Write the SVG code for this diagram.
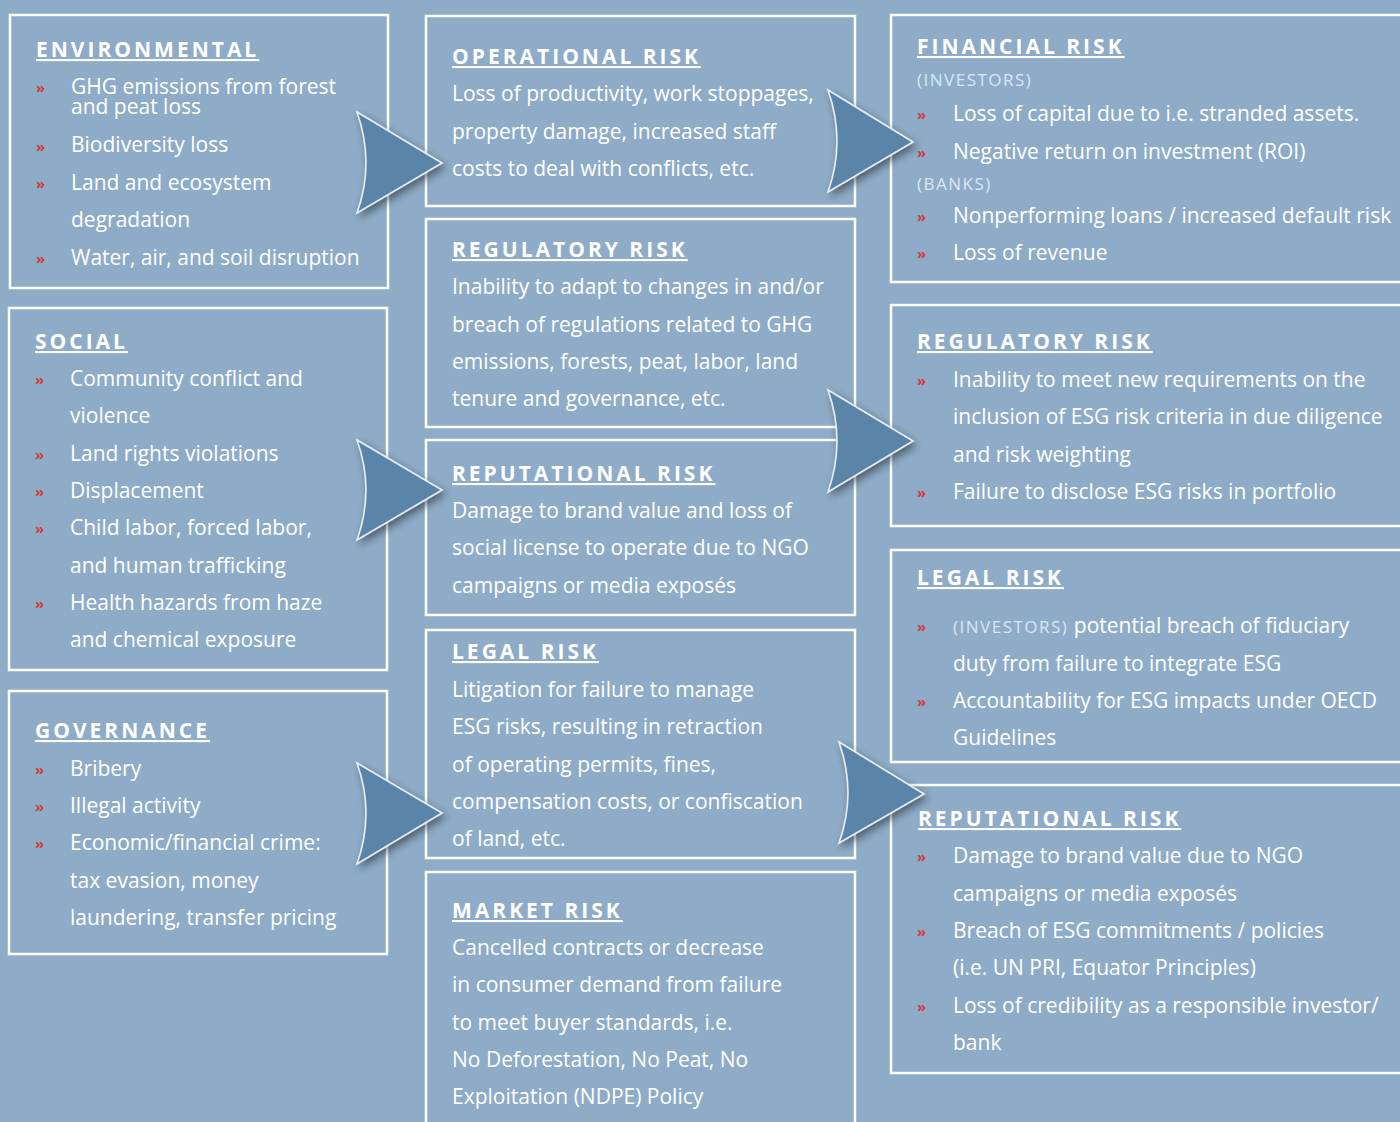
<svg xmlns="http://www.w3.org/2000/svg" width="1400" height="1122" viewBox="0 0 1400 1122">
<defs>
<style>
.box{fill:none;stroke:#ffffff;stroke-width:2.5}
.h{font-family:"Open Sans","Liberation Sans",sans-serif;font-weight:700;font-size:21px;letter-spacing:3px;fill:#ffffff;text-decoration:underline}
.t{font-family:"Open Sans","Liberation Sans",sans-serif;font-size:21px;fill:#ffffff}
.b{font-family:"Open Sans","Liberation Sans",sans-serif;font-size:15px;fill:#d6393f;font-weight:700}
.s{font-family:"Open Sans","Liberation Sans",sans-serif;font-size:17px;letter-spacing:1.5px;fill:#dce6ef}
.arr{fill:#5a85a9;stroke:#e8eef4;stroke-width:1.6;filter:url(#sh)}
</style>
<filter id="sh" x="-30%" y="-30%" width="170%" height="170%">
<feGaussianBlur in="SourceAlpha" stdDeviation="4"/>
<feOffset dx="3" dy="4" result="o"/>
<feComponentTransfer><feFuncA type="linear" slope="0.45"/></feComponentTransfer>
<feMerge><feMergeNode/><feMergeNode in="SourceGraphic"/></feMerge>
</filter>
</defs>
<rect x="0" y="0" width="1400" height="1122" fill="#8eacc7"/>

<g id="environmental">
<rect class="box" x="10" y="15" width="378" height="273"/>
<text class="h" x="36" y="57">ENVIRONMENTAL</text>
<text class="b" x="36" y="93">»</text><text class="t" x="71" y="94">GHG emissions from forest<tspan x="71" dy="20">and peat loss</tspan></text>
<text class="b" x="36" y="152">»</text><text class="t" x="71" y="152">Biodiversity loss</text>
<text class="b" x="36" y="189">»</text><text class="t" x="71" y="190">Land and ecosystem</text>
<text class="t" x="71" y="227">degradation</text>
<text class="b" x="36" y="264">»</text><text class="t" x="71" y="265">Water, air, and soil disruption</text>
</g>

<g id="social">
<rect class="box" x="9" y="308" width="378" height="362"/>
<text class="h" x="35" y="349">SOCIAL</text>
<text class="b" x="35" y="385">»</text><text class="t" x="70" y="386">Community conflict and</text>
<text class="t" x="70" y="423">violence</text>
<text class="b" x="35" y="460">»</text><text class="t" x="70" y="461">Land rights violations</text>
<text class="b" x="35" y="497">»</text><text class="t" x="70" y="498">Displacement</text>
<text class="b" x="35" y="534">»</text><text class="t" x="70" y="535">Child labor, forced labor,</text>
<text class="t" x="70" y="573">and human trafficking</text>
<text class="b" x="35" y="609">»</text><text class="t" x="70" y="610">Health hazards from haze</text>
<text class="t" x="70" y="647">and chemical exposure</text>
</g>

<g id="governance">
<rect class="box" x="9" y="691" width="378" height="263"/>
<text class="h" x="35" y="738">GOVERNANCE</text>
<text class="b" x="35" y="775">»</text><text class="t" x="70" y="776">Bribery</text>
<text class="b" x="35" y="812">»</text><text class="t" x="70" y="813">Illegal activity</text>
<text class="b" x="35" y="849">»</text><text class="t" x="70" y="850">Economic/financial crime:</text>
<text class="t" x="70" y="888">tax evasion, money</text>
<text class="t" x="70" y="925">laundering, transfer pricing</text>
</g>

<g id="operational-risk">
<rect class="box" x="426" y="16" width="429" height="190"/>
<text class="h" x="452" y="64">OPERATIONAL RISK</text>
<text class="t" x="452" y="101">Loss of productivity, work stoppages,</text>
<text class="t" x="452" y="139">property damage, increased staff</text>
<text class="t" x="452" y="176">costs to deal with conflicts, etc.</text>
</g>

<g id="regulatory-risk-company">
<rect class="box" x="426" y="219" width="429" height="208"/>
<text class="h" x="452" y="257">REGULATORY RISK</text>
<text class="t" x="452" y="294">Inability to adapt to changes in and/or</text>
<text class="t" x="452" y="332">breach of regulations related to GHG</text>
<text class="t" x="452" y="369">emissions, forests, peat, labor, land</text>
<text class="t" x="452" y="406">tenure and governance, etc.</text>
</g>

<g id="reputational-risk-company">
<rect class="box" x="426" y="440" width="429" height="175"/>
<text class="h" x="452" y="481">REPUTATIONAL RISK</text>
<text class="t" x="452" y="518">Damage to brand value and loss of</text>
<text class="t" x="452" y="555">social license to operate due to NGO</text>
<text class="t" x="452" y="593">campaigns or media exposés</text>
</g>

<g id="legal-risk-company">
<rect class="box" x="426" y="630" width="429" height="228"/>
<text class="h" x="452" y="659">LEGAL RISK</text>
<text class="t" x="452" y="697">Litigation for failure to manage</text>
<text class="t" x="452" y="734">ESG risks, resulting in retraction</text>
<text class="t" x="452" y="772">of operating permits, fines,</text>
<text class="t" x="452" y="809">compensation costs, or confiscation</text>
<text class="t" x="452" y="846">of land, etc.</text>
</g>

<g id="market-risk">
<rect class="box" x="426" y="872" width="429" height="260"/>
<text class="h" x="452" y="918">MARKET RISK</text>
<text class="t" x="452" y="955">Cancelled contracts or decrease</text>
<text class="t" x="452" y="992">in consumer demand from failure</text>
<text class="t" x="452" y="1030">to meet buyer standards, i.e.</text>
<text class="t" x="452" y="1067">No Deforestation, No Peat, No</text>
<text class="t" x="452" y="1104">Exploitation (NDPE) Policy</text>
</g>

<g id="financial-risk">
<rect class="box" x="891" y="15" width="520" height="267"/>
<text class="h" x="917" y="54">FINANCIAL RISK</text>
<text class="s" x="917" y="86">(INVESTORS)</text>
<text class="b" x="917" y="120">»</text><text class="t" x="953" y="121">Loss of capital due to i.e. stranded assets.</text>
<text class="b" x="917" y="158">»</text><text class="t" x="953" y="159">Negative return on investment (ROI)</text>
<text class="s" x="917" y="190">(BANKS)</text>
<text class="b" x="917" y="222">»</text><text class="t" x="953" y="223">Nonperforming loans / increased default risk</text>
<text class="b" x="917" y="259">»</text><text class="t" x="953" y="260">Loss of revenue</text>
</g>

<g id="regulatory-risk-finance">
<rect class="box" x="891" y="305" width="520" height="221"/>
<text class="h" x="917" y="349">REGULATORY RISK</text>
<text class="b" x="917" y="386">»</text><text class="t" x="953" y="387">Inability to meet new requirements on the</text>
<text class="t" x="953" y="424">inclusion of ESG risk criteria in due diligence</text>
<text class="t" x="953" y="462">and risk weighting</text>
<text class="b" x="917" y="498">»</text><text class="t" x="953" y="499">Failure to disclose ESG risks in portfolio</text>
</g>

<g id="legal-risk-finance">
<rect class="box" x="891" y="550" width="520" height="212"/>
<text class="h" x="917" y="585">LEGAL RISK</text>
<text class="b" x="917" y="632">»</text><text x="953" y="633"><tspan class="s">(INVESTORS)</tspan><tspan class="t"> potential breach of fiduciary</tspan></text>
<text class="t" x="953" y="671">duty from failure to integrate ESG</text>
<text class="b" x="917" y="707">»</text><text class="t" x="953" y="708">Accountability for ESG impacts under OECD</text>
<text class="t" x="953" y="745">Guidelines</text>
</g>

<g id="reputational-risk-finance">
<rect class="box" x="891" y="785" width="520" height="288"/>
<text class="h" x="918" y="826">REPUTATIONAL RISK</text>
<text class="b" x="917" y="862">»</text><text class="t" x="953" y="863">Damage to brand value due to NGO</text>
<text class="t" x="953" y="901">campaigns or media exposés</text>
<text class="b" x="917" y="937">»</text><text class="t" x="953" y="938">Breach of ESG commitments / policies</text>
<text class="t" x="953" y="975">(i.e. UN PRI, Equator Principles)</text>
<text class="b" x="917" y="1012">»</text><text class="t" x="953" y="1013">Loss of credibility as a responsible investor/</text>
<text class="t" x="953" y="1050">bank</text>
</g>

<g id="connectors">
<path class="arr" d="M357,112 L442,163 L357,213 Q375,163 357,112 Z"/>
<path class="arr" d="M357,440 L442,490 L357,540 Q375,490 357,440 Z"/>
<path class="arr" d="M357,763 L442,813 L357,864 Q375,813 357,763 Z"/>
<path class="arr" d="M828,90 L913,142 L828,192 Q846,141 828,90 Z"/>
<path class="arr" d="M828,390 L913,441 L828,492 Q846,441 828,390 Z"/>
<path class="arr" d="M839,742 L924,794 L839,843 Q857,793 839,742 Z"/>
</g>
</svg>
